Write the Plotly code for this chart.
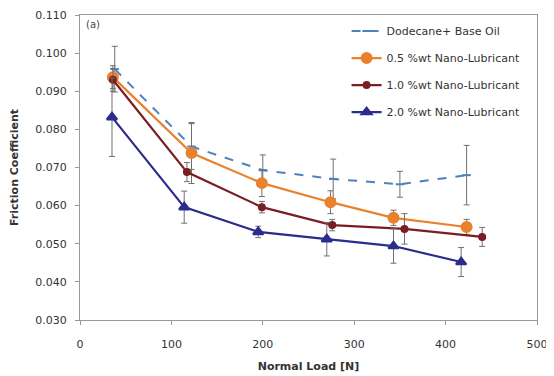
import plotly.graph_objects as go

names = ["Dodecane+ Base Oil", "0.5 %wt Nano-Lubricant", "1.0 %wt Nano-Lubricant", "2.0 %wt Nano-Lubricant"]

load_dodecane = [38, 122, 200, 277, 350, 423]
load_05 = [36, 122, 199, 274, 343, 423]
load_10 = [36, 117, 199, 276, 355, 440]
load_20 = [35, 114, 195, 270, 343, 417]

cof_dodecane = [0.0958, 0.0755, 0.0693, 0.0670, 0.0656, 0.0680]
cof_05 = [0.0937, 0.0738, 0.0659, 0.0609, 0.0568, 0.0544]
cof_10 = [0.0930, 0.0688, 0.0596, 0.0549, 0.0539, 0.0518]
cof_20 = [0.0832, 0.0596, 0.0531, 0.0512, 0.0494, 0.0452]

err_dodecane = [0.0060, 0.0060, 0.0040, 0.0052, 0.0034, 0.0078]
err_05 = [0.0030, 0.0080, 0.0035, 0.0030, 0.0020, 0.0020]
err_10 = [0.0030, 0.0025, 0.0015, 0.0015, 0.0040, 0.0025]
err_20 = [0.0103, 0.0042, 0.0015, 0.0044, 0.0045, 0.0038]

xs = [load_dodecane, load_05, load_10, load_20]
ys = [cof_dodecane, cof_05, cof_10, cof_20]
es = [err_dodecane, err_05, err_10, err_20]
colors = ["#4F81BD", "#E8822E", "#7B1E24", "#2B2C8C"]
dashes = ["dash", "solid", "solid", "solid"]
symbols = ["line-ew", "circle", "circle", "triangle-up"]
msizes = [6, 10, 6, 9]

FONT = "DejaVu Sans, Verdana, sans-serif"

fig = go.Figure()
for i in range(4):
    fig.add_trace(go.Scatter(
        x=xs[i], y=ys[i], name=names[i], mode="lines+markers",
        line=dict(color=colors[i], width=2.2 if i else 2, dash=dashes[i]),
        marker=dict(symbol=symbols[i], size=msizes[i], color=colors[i],
                    line=dict(color=colors[i], width=2)),
        error_y=dict(type="data", array=es[i], color="#707070", thickness=1, width=3),
        legendgroup=str(i),
    ))

fig.add_annotation(x=0.008, y=0.995, xref="paper", yref="paper", text="(a)",
                   showarrow=False, xanchor="left", yanchor="top",
                   font=dict(size=10, color="#444", family=FONT))

fig.update_layout(
    width=546, height=368,
    margin=dict(l=72, r=17, t=7, b=56),
    paper_bgcolor="white", plot_bgcolor="white",
    font=dict(family=FONT, size=11, color="#333"),
    showlegend=True,
    legend=dict(x=0.975, y=0.995, xanchor="right", yanchor="top",
                bgcolor="rgba(255,255,255,0)", tracegroupgap=8,
                font=dict(size=11, color="#333", family=FONT)),
    xaxis=dict(range=[0, 500], dtick=100, showgrid=False, zeroline=False,
               showline=True, linecolor="#999", mirror=True, ticks="outside",
               ticklen=4, tickcolor="#999", automargin=False, ticklabelstandoff=10,
               tickfont=dict(size=11, family=FONT, color="#333"),
               title=dict(text="<b>Normal Load [N]</b>", font=dict(size=11, color="#333", family=FONT), standoff=12)),
    yaxis=dict(range=[0.030, 0.110], dtick=0.01, tickformat=".3f", showgrid=False,
               zeroline=False, showline=True, linecolor="#999", mirror=True,
               ticks="outside", ticklen=4, tickcolor="#999", automargin=False,
               ticklabelstandoff=6,
               tickfont=dict(size=11, family=FONT, color="#333"),
               title=dict(text="<b>Friction Coefficient</b>", font=dict(size=11, color="#333", family=FONT), standoff=15)),
)

fig.write_html("out.html")
